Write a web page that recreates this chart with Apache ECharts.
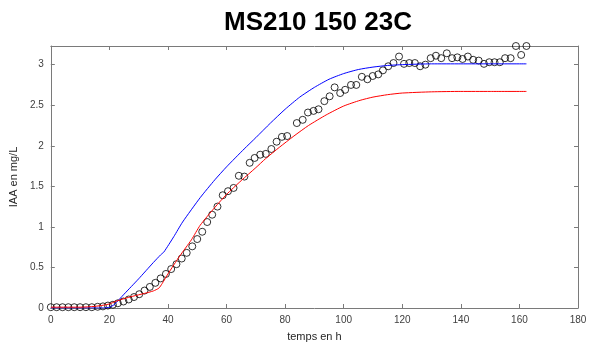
<!DOCTYPE html>
<html><head><meta charset="utf-8">
<script src="https://cdn.jsdelivr.net/npm/echarts@6/dist/echarts.min.js"></script>
<style>html,body{margin:0;padding:0;background:#fff}#c{width:605px;height:347px}</style>
</head><body><div id="c"></div>
<script>
var obsTime = [0,2,4,6,8,10,12,14,16,17.8,19.5,21.2,22.9,24.8,26.6,28.4,30.2,32.0,33.8,35.7,37.5,39.3,41.1,42.9,44.7,46.4,48.3,50.0,51.7,53.4,55.1,56.9,58.7,60.5,62.4,64.2,66.1,67.9,69.6,71.5,73.4,75.3,77.1,78.9,80.7,84.0,86.0,87.8,89.7,91.4,93.4,95.2,96.9,98.8,100.5,102.5,104.3,106.2,108.1,109.9,111.8,113.4,115.2,117.0,118.9,120.6,122.4,124.3,126.1,127.9,129.7,131.5,133.3,135.2,137.0,138.8,140.6,142.4,144.2,146.1,147.9,149.7,151.5,153.3,155.1,157.0,158.8,160.6,162.4];
var obsIAA = [0.01,0.01,0.01,0.01,0.01,0.01,0.01,0.01,0.015,0.02,0.03,0.04,0.058,0.08,0.105,0.135,0.17,0.215,0.26,0.31,0.365,0.42,0.48,0.54,0.61,0.68,0.76,0.85,0.94,1.06,1.15,1.25,1.39,1.44,1.48,1.63,1.62,1.79,1.85,1.89,1.90,1.96,2.05,2.11,2.12,2.28,2.32,2.41,2.43,2.45,2.55,2.61,2.72,2.65,2.69,2.75,2.75,2.85,2.82,2.86,2.88,2.93,2.98,3.02,3.10,3.01,3.02,3.02,2.98,3.00,3.08,3.11,3.08,3.14,3.08,3.09,3.07,3.10,3.06,3.05,3.01,3.03,3.03,3.03,3.08,3.08,3.23,3.12,3.23];

var blueTime = [0,10,18,20,21.6,25,30,35,37.5,38.6,42,45,51,56,60,66,70,75,80,85,90,95,100,105,110,115,120,130,140,150,162.4];
var blueIAA  = [0,0,0,0.01,0.04,0.17,0.36,0.56,0.655,0.69,0.88,1.06,1.36,1.58,1.74,1.96,2.10,2.28,2.45,2.60,2.72,2.82,2.89,2.94,2.97,2.99,3.0,3.01,3.01,3.01,3.01];

var redTime = [0,10,15,18,20,22,25,28,32,35,36.9,38,40,44,48,51,56,60,65,70,73.3,78,83,88,94,100,105.6,110,115,120,130,140,150,162.4];
var redIAA  = [0.01,0.01,0.02,0.035,0.05,0.08,0.115,0.145,0.18,0.21,0.245,0.30,0.42,0.64,0.84,1.02,1.24,1.40,1.57,1.73,1.84,1.98,2.12,2.25,2.38,2.49,2.56,2.60,2.63,2.65,2.665,2.67,2.67,2.67];

var xTicks = [0,20,40,60,80,100,120,140,160,180];
var yTicks = [0,0.5,1,1.5,2,2.5,3];

function pairs(a,b){return a.map(function(v,i){return [v,b[i]];});}

var lineCol = '#7a7a7a', txtCol = '#404040';
var font = 'Liberation Sans, Arial, Helvetica, sans-serif';
function xAx(pos, labels){
  return {type:'value', position:pos, min:0, max:180, interval:20,
    axisLine:{show:true, onZero:false, lineStyle:{color:lineCol, width:1}},
    axisTick:{show:true, inside:true, length:4, lineStyle:{color:lineCol}},
    axisLabel:{show:labels, color:txtCol, fontSize:10, fontFamily:font, margin:7},
    splitLine:{show:false},
    name: labels ? 'temps en h' : '', nameLocation:'middle', nameGap:23,
    nameTextStyle:{color:'#262626', fontSize:11, fontFamily:font}};
}
function yAx(pos, labels){
  return {type:'value', position:pos, min:0, max:3.23, interval:0.5,
    axisLine:{show:true, onZero:false, lineStyle:{color:lineCol, width:1}},
    axisTick:{show:true, inside:true, length:4, lineStyle:{color:lineCol}},
    axisLabel:{show:labels, color:txtCol, fontSize:10, fontFamily:font, margin:7, showMaxLabel:false},
    splitLine:{show:false},
    name: labels ? 'IAA en mg/L' : '', nameLocation:'middle', nameGap:27, nameRotate:90,
    nameTextStyle:{color:'#262626', fontSize:11, fontFamily:font}};
}

var chart = echarts.init(document.getElementById('c'), null, {renderer:'canvas'});
chart.setOption({
  animation:false,
  backgroundColor:'#fff',
  title:{text:'MS210 150 23C', left:313, top:5, textAlign:'center',
    textStyle:{fontSize:26, fontWeight:'bold', color:'#000', fontFamily:font}},
  grid:{left:50, right:27, top:46, bottom:34},
  xAxis:[xAx('bottom', true), xAx('top', false)],
  yAxis:[yAx('left', true), yAx('right', false)],
  series:[
    {type:'scatter', data:pairs(obsTime, obsIAA), symbol:'circle', symbolSize:7,
     itemStyle:{color:'rgba(255,255,255,0)', borderColor:'#000', borderWidth:1}, z:2},
    {type:'line', data:pairs(blueTime, blueIAA), showSymbol:false, smooth:0.2,
     lineStyle:{color:'#0000ff', width:1}, z:3},
    {type:'line', data:pairs(redTime, redIAA), showSymbol:false, smooth:0.2,
     lineStyle:{color:'#ff0000', width:1}, z:3}
  ]
});
</script></body></html>
